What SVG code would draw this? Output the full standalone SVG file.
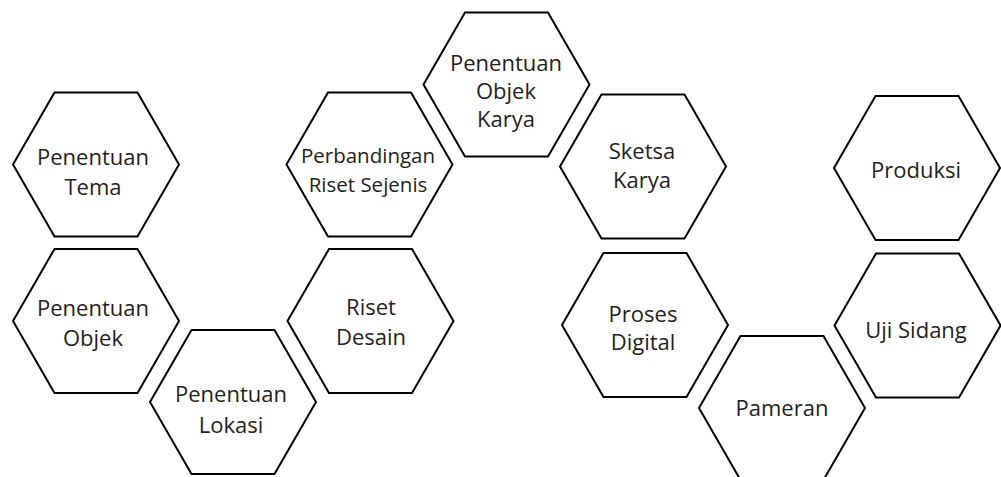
<svg xmlns="http://www.w3.org/2000/svg" xmlns:xlink="http://www.w3.org/1999/xlink" width="1001" height="477" viewBox="0 0 1001 477">
<style>
.hex{fill:#ffffff;stroke:#000000;stroke-width:2;stroke-linejoin:miter}
.t{font-family:"Open Sans","Noto Sans","Liberation Sans",sans-serif;font-size:22px;fill:#231f20;text-anchor:middle}
.s{font-size:20.5px}
</style>
<defs>
<path id="hx" d="M-83,0 L-41.5,-72 L41.5,-72 L83,0 L41.5,72 L-41.5,72 Z"/>
</defs>
<rect width="1001" height="477" fill="#ffffff"/>
<g id="connectors"></g>
<g id="n-tema"><use xlink:href="#hx" class="hex" x="96" y="164.5"/><text class="t" x="93" y="165">Penentuan</text><text class="t" x="93" y="195">Tema</text></g>
<g id="n-objek"><use xlink:href="#hx" class="hex" x="96" y="321"/><text class="t" x="93" y="316">Penentuan</text><text class="t" x="93" y="346">Objek</text></g>
<g id="n-lokasi"><use xlink:href="#hx" class="hex" x="233" y="402"/><text class="t" x="231" y="402">Penentuan</text><text class="t" x="231" y="433">Lokasi</text></g>
<g id="n-perbandingan"><use xlink:href="#hx" class="hex" x="369.5" y="164.5"/><text class="t s" x="368" y="163">Perbandingan</text><text class="t s" x="368" y="192">Riset Sejenis</text></g>
<g id="n-riset"><use xlink:href="#hx" class="hex" x="370.5" y="321"/><text class="t" x="371" y="315">Riset</text><text class="t" x="371" y="345">Desain</text></g>
<g id="n-objekkarya"><use xlink:href="#hx" class="hex" x="506.5" y="84.5"/><text class="t" x="506" y="71">Penentuan</text><text class="t" x="506" y="99">Objek</text><text class="t" x="506" y="127">Karya</text></g>
<g id="n-sketsa"><use xlink:href="#hx" class="hex" x="643" y="166.5"/><text class="t" x="642" y="159">Sketsa</text><text class="t" x="642" y="188">Karya</text></g>
<g id="n-proses"><use xlink:href="#hx" class="hex" x="645" y="325"/><text class="t" x="643" y="322">Proses</text><text class="t" x="643" y="350">Digital</text></g>
<g id="n-pameran"><use xlink:href="#hx" class="hex" x="782" y="408"/><text class="t" x="782" y="416">Pameran</text></g>
<g id="n-produksi"><use xlink:href="#hx" class="hex" x="917" y="168"/><text class="t" x="916" y="178">Produksi</text></g>
<g id="n-sidang"><use xlink:href="#hx" class="hex" x="917.5" y="325.5"/><text class="t" x="916" y="338">Uji Sidang</text></g>
</svg>
